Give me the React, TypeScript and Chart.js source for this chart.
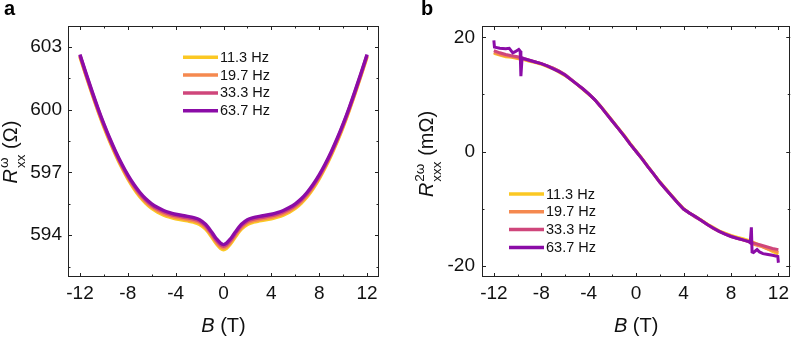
import React, { useEffect, useRef } from "react";
import { Chart, registerables } from "chart.js";
Chart.register(...registerables);

const FONT = '"Liberation Sans", Arial, Helvetica, sans-serif';

const FREQS = ["11.3 Hz", "19.7 Hz", "33.3 Hz", "63.7 Hz"];
const COLORS = ["#FBC823", "#F5894F", "#CF467B", "#8B0CA7"];

const xTicks = [-12, -8, -4, 0, 4, 8, 12];
const xMinor = [-10, -6, -2, 2, 6, 10];
const yTicksA = [594, 597, 600, 603];
const yMinorA = [592.5, 595.5, 598.5, 601.5];
const yTicksB = [-20, 0, 20];
const yMinorB = [-10, 10];

// Panel a: R_xx^ω (Ω) vs B (T)
const bA = [-12, -11.5, -11, -10.5, -10, -9.5, -9, -8.5, -8, -7.5, -7, -6.5, -6, -5.5, -5, -4.5, -4, -3, -2.5, -2, -1.5, -1, -0.75, -0.5, -0.25, 0,
  0.25, 0.5, 0.75, 1, 1.5, 2, 2.5, 3, 4, 4.5, 5, 5.5, 6, 6.5, 7, 7.5, 8, 8.5, 9, 9.5, 10, 10.5, 11, 11.5, 12];
const rA11 = [602.52, 601.63, 600.77, 599.94, 599.17, 598.46, 597.81, 597.22, 596.69, 596.23, 595.84, 595.53, 595.28, 595.1, 594.96, 594.86, 594.78, 594.68, 594.62, 594.51, 594.29, 593.92, 593.71, 593.52, 593.37, 593.3,
  593.37, 593.52, 593.71, 593.92, 594.29, 594.51, 594.62, 594.68, 594.78, 594.86, 594.96, 595.1, 595.28, 595.53, 595.84, 596.23, 596.69, 597.22, 597.81, 598.46, 599.17, 599.94, 600.77, 601.63, 602.52];
const rA19 = [602.56, 601.67, 600.81, 599.99, 599.22, 598.51, 597.87, 597.28, 596.75, 596.3, 595.91, 595.6, 595.35, 595.17, 595.03, 594.93, 594.85, 594.75, 594.69, 594.59, 594.36, 594.0, 593.79, 593.6, 593.45, 593.38,
  593.45, 593.6, 593.79, 594.0, 594.36, 594.59, 594.69, 594.75, 594.85, 594.93, 595.03, 595.17, 595.35, 595.6, 595.91, 596.3, 596.75, 597.28, 597.87, 598.51, 599.22, 599.99, 600.81, 601.67, 602.56];
const rA33 = [602.6, 601.71, 600.86, 600.04, 599.27, 598.57, 597.93, 597.34, 596.82, 596.37, 595.98, 595.67, 595.43, 595.25, 595.11, 595.01, 594.93, 594.83, 594.77, 594.67, 594.45, 594.08, 593.87, 593.69, 593.54, 593.47,
  593.54, 593.69, 593.87, 594.08, 594.45, 594.67, 594.77, 594.83, 594.93, 595.01, 595.11, 595.25, 595.43, 595.67, 595.98, 596.37, 596.82, 597.34, 597.93, 598.57, 599.27, 600.04, 600.86, 601.71, 602.6];
const rA63 = [602.64, 601.75, 600.9, 600.08, 599.32, 598.62, 597.98, 597.4, 596.88, 596.43, 596.05, 595.74, 595.5, 595.32, 595.18, 595.08, 595.0, 594.9, 594.84, 594.74, 594.52, 594.16, 593.95, 593.77, 593.62, 593.55,
  593.62, 593.77, 593.95, 594.16, 594.52, 594.74, 594.84, 594.9, 595.0, 595.08, 595.18, 595.32, 595.5, 595.74, 596.05, 596.43, 596.88, 597.4, 597.98, 598.62, 599.32, 600.08, 600.9, 601.75, 602.64];

// Panel b: R_xxx^2ω (mΩ) vs B (T)
const bB = [-12, -11.5, -11, -10.5, -10, -9.5, -9, -8.5, -8, -7.5, -7, -6.5, -6, -5.5, -5, -4.5, -4, -3.5, -3, -2.5, -2, -1.5, -1, -0.5, 0,
  0.5, 1, 1.5, 2, 2.5, 3, 3.5, 4, 4.5, 5, 5.5, 6, 6.5, 7, 7.5, 8, 8.5, 9, 9.5, 10, 10.5, 11, 11.5, 12];
const rB11 = [17.2, 16.9, 16.6, 16.5, 16.3, 16.1, 15.8, 15.6, 15.3, 14.9, 14.5, 13.9, 13.3, 12.6, 11.8, 10.9, 10.0, 9.1, 8.0, 6.7, 5.4, 4.1, 2.8, 1.4, 0.1,
  -1.2, -2.6, -4.0, -5.3, -6.5, -7.7, -8.9, -10.0, -10.8, -11.4, -12.0, -12.7, -13.3, -13.9, -14.3, -14.7, -15.0, -15.3, -15.6, -16.0, -16.5, -17.0, -17.5, -18.0];
const rB19 = [17.4, 17.0, 16.8, 16.6, 16.4, 16.2, 15.9, 15.7, 15.4, 15.0, 14.6, 14.1, 13.4, 12.6, 11.8, 11.0, 10.1, 9.1, 7.9, 6.6, 5.3, 4.0, 2.7, 1.3, 0.0,
  -1.3, -2.7, -4.0, -5.4, -6.6, -7.8, -9.0, -10.1, -10.8, -11.4, -12.1, -12.8, -13.4, -14.0, -14.4, -14.8, -15.2, -15.5, -15.8, -16.3, -16.6, -17.0, -17.3, -17.7];
const rB33 = [17.7, 17.3, 17.0, 16.8, 16.6, 16.3, 16.0, 15.7, 15.4, 15.0, 14.6, 14.1, 13.5, 12.7, 11.8, 11.0, 10.1, 9.1, 7.9, 6.6, 5.3, 4.0, 2.7, 1.3, 0.0,
  -1.3, -2.7, -4.0, -5.4, -6.6, -7.8, -9.0, -10.1, -10.8, -11.5, -12.1, -12.8, -13.5, -14.0, -14.5, -14.9, -15.2, -15.5, -15.8, -16.1, -16.4, -16.7, -17.0, -17.2];
const bB63 = [-12, -11.95, -11.5, -11, -10.7, -10.4, -10.2, -9.9, -9.78, -9.72, -9.62, -9.5,
  -9, -8.5, -8, -7.5, -7, -6.5, -6, -5.5, -5, -4.5, -4, -3.5, -3, -2.5, -2, -1.5, -1, -0.5, 0,
  0.5, 1, 1.5, 2, 2.5, 3, 3.5, 4, 4.5, 5, 5.5, 6, 6.5, 7, 7.5, 8, 8.5, 9,
  9.5, 9.62, 9.72, 9.78, 9.9, 10.2, 10.4, 10.7, 11, 11.5, 11.95, 12];
const rB63 = [19.5, 18.3, 18.1, 18.0, 18.1, 17.3, 17.5, 17.9, 17.6, 13.2, 16.4, 16.3,
  16.0, 15.7, 15.4, 15.0, 14.5, 14.0, 13.4, 12.6, 11.8, 11.0, 10.1, 9.1, 7.9, 6.6, 5.3, 4.0, 2.7, 1.3, 0.0,
  -1.3, -2.7, -4.0, -5.4, -6.6, -7.8, -9.0, -10.1, -10.8, -11.4, -12.1, -12.8, -13.4, -14.0, -14.5, -14.9, -15.2, -15.5,
  -15.8, -16.0, -13.3, -17.6, -17.7, -17.2, -17.6, -17.9, -18.0, -18.2, -18.4, -19.5];

const toXY = (xs: number[], ys: number[]) => xs.map((x, i) => ({ x, y: ys[i] }));

type PanelCfg = {
  letter: string;
  letterX: number;
  yMajor: number[];
  yMinor: number[];
  titleX: number;
  titleYc: number;
  sup: string;
  sub: string;
  unit: string;
  legendX: number;
  legendY: number;
};

function drawYTitle(ctx: CanvasRenderingContext2D, cfg: PanelCfg) {
  ctx.save();
  ctx.translate(cfg.titleX, cfg.titleYc);
  ctx.rotate(-Math.PI / 2);
  const big = `20px ${FONT}`;
  const bigI = `italic 20px ${FONT}`;
  const small = `13.5px ${FONT}`;
  ctx.font = bigI;
  const wR = ctx.measureText("R").width;
  ctx.font = small;
  const wS = Math.max(ctx.measureText(cfg.sup).width, ctx.measureText(cfg.sub).width);
  ctx.font = big;
  const wU = ctx.measureText(cfg.unit).width;
  const total = wR + 1 + wS + wU;
  let cx = -total / 2;
  ctx.fillStyle = "#111";
  ctx.textAlign = "left";
  ctx.textBaseline = "alphabetic";
  ctx.font = bigI;
  ctx.fillText("R", cx, 0);
  cx += wR + 1;
  ctx.font = small;
  ctx.fillText(cfg.sup, cx, -9.5);
  ctx.fillText(cfg.sub, cx, 7.5);
  cx += wS;
  ctx.font = big;
  ctx.fillText(cfg.unit, cx, 0);
  ctx.restore();
}

function makePlugin(cfg: PanelCfg) {
  return {
    id: "decor",
    afterDraw(chart: any) {
      const ctx: CanvasRenderingContext2D = chart.ctx;
      const a = chart.chartArea;
      const xs = chart.scales.x;
      const ys = chart.scales.y;
      ctx.save();
      ctx.strokeStyle = "#222";
      ctx.lineWidth = 1;
      ctx.strokeRect(Math.round(a.left) + 0.5, Math.round(a.top) + 0.5, Math.round(a.right - a.left) - 1, Math.round(a.bottom - a.top) - 1);
      const tick = (vals: number[], len: number) => {
        ctx.beginPath();
        vals.forEach((v) => {
          const px = Math.round(xs.getPixelForValue(v)) + 0.5;
          ctx.moveTo(px, a.bottom);
          ctx.lineTo(px, a.bottom - len);
          ctx.moveTo(px, a.top);
          ctx.lineTo(px, a.top + len);
        });
        ctx.stroke();
      };
      const tickY = (vals: number[], len: number) => {
        ctx.beginPath();
        vals.forEach((v) => {
          const py = Math.round(ys.getPixelForValue(v)) + 0.5;
          if (py < a.top || py > a.bottom) return;
          ctx.moveTo(a.left, py);
          ctx.lineTo(a.left + len, py);
          ctx.moveTo(a.right, py);
          ctx.lineTo(a.right - len, py);
        });
        ctx.stroke();
      };
      tick(xTicks, 4);
      tick(xMinor, 2.5);
      tickY(cfg.yMajor, 4);
      tickY(cfg.yMinor, 2.5);

      // legend
      FREQS.forEach((f, i) => {
        const y = cfg.legendY + i * 17.8;
        ctx.strokeStyle = COLORS[i];
        ctx.lineWidth = 3.5;
        ctx.beginPath();
        ctx.moveTo(cfg.legendX, y);
        ctx.lineTo(cfg.legendX + 35, y);
        ctx.stroke();
        ctx.fillStyle = "#111";
        ctx.font = `14.5px ${FONT}`;
        ctx.textAlign = "left";
        ctx.textBaseline = "middle";
        ctx.fillText(f, cfg.legendX + 37, y + 0.5);
      });

      // x title
      const cxm = (a.left + a.right) / 2;
      ctx.font = `italic 20px ${FONT}`;
      const wB = ctx.measureText("B").width;
      ctx.font = `20px ${FONT}`;
      const wT = ctx.measureText(" (T)").width;
      const x0 = cxm - (wB + wT) / 2;
      ctx.textBaseline = "alphabetic";
      ctx.fillStyle = "#111";
      ctx.font = `italic 20px ${FONT}`;
      ctx.fillText("B", x0, 332);
      ctx.font = `20px ${FONT}`;
      ctx.fillText(" (T)", x0 + wB, 332);

      // panel letter
      ctx.font = `bold 20px ${FONT}`;
      ctx.fillStyle = "#000";
      ctx.fillText(cfg.letter, cfg.letterX, 15);

      drawYTitle(ctx, cfg);
      ctx.restore();
    },
  };
}

function makeChart(
  canvas: HTMLCanvasElement,
  datasets: any[],
  yMin: number,
  yMax: number,
  yWidth: number,
  yPad: number,
  padRight: number,
  cfg: PanelCfg
) {
  return new Chart(canvas, {
    type: "line",
    data: { datasets },
    options: {
      animation: false,
      responsive: false,
      maintainAspectRatio: false,
      devicePixelRatio: 1,
      layout: { padding: { left: 0, top: 26, right: padRight, bottom: 0 } },
      plugins: { legend: { display: false }, tooltip: { enabled: false } },
      elements: { point: { radius: 0 }, line: { tension: 0 } },
      scales: {
        x: {
          type: "linear",
          min: -13,
          max: 13,
          afterFit: (s: any) => {
            s.height = 61;
          },
          afterBuildTicks: (s: any) => {
            s.ticks = xTicks.map((v) => ({ value: v }));
          },
          grid: { display: false, drawTicks: false },
          border: { display: false },
          ticks: {
            font: { family: FONT, size: 19 },
            color: "#111",
            padding: 5,
            maxRotation: 0,
            autoSkip: false,
            callback: (v: any) => String(v),
          },
        },
        y: {
          type: "linear",
          min: yMin,
          max: yMax,
          afterFit: (s: any) => {
            s.width = yWidth;
          },
          afterBuildTicks: (s: any) => {
            s.ticks = cfg.yMajor.map((v) => ({ value: v }));
          },
          grid: { display: false, drawTicks: false },
          border: { display: false },
          ticks: {
            font: { family: FONT, size: 19 },
            color: "#111",
            padding: yPad,
            autoSkip: false,
            callback: (v: any) => String(v),
          },
        },
      },
    } as any,
    plugins: [makePlugin(cfg)],
  });
}

export default function App() {
  const refA = useRef<HTMLCanvasElement>(null);
  const refB = useRef<HTMLCanvasElement>(null);

  useEffect(() => {
    const lineA = (d: number[], i: number, order: number) => ({
      label: FREQS[i],
      data: toXY(bA, d),
      borderColor: COLORS[i],
      borderWidth: 3.4,
      cubicInterpolationMode: "monotone",
      fill: false,
      order,
    });
    const lineB = (xs: number[], d: number[], i: number, order: number) => ({
      label: FREQS[i],
      data: toXY(xs, d),
      borderColor: COLORS[i],
      borderWidth: 3,
      fill: false,
      order,
    });
    const cfgA: PanelCfg = {
      letter: "a",
      letterX: 4,
      yMajor: yTicksA,
      yMinor: yMinorA,
      titleX: 17,
      titleYc: 152,
      sup: "ω",
      sub: "xx",
      unit: " (Ω)",
      legendX: 183,
      legendY: 57.3,
    };
    const cfgB: PanelCfg = {
      letter: "b",
      letterX: 24,
      yMajor: yTicksB,
      yMinor: yMinorB,
      titleX: 36,
      titleYc: 154,
      sup: "2ω",
      sub: "xxx",
      unit: " (mΩ)",
      legendX: 112,
      legendY: 194,
    };
    const chartA = makeChart(
      refA.current!,
      [lineA(rA11, 0, 3), lineA(rA19, 1, 2), lineA(rA33, 2, 1), lineA(rA63, 3, 0)],
      592,
      604,
      68,
      6,
      18,
      cfgA
    );
    const chartB = makeChart(
      refB.current!,
      [lineB(bB, rB11, 0, 3), lineB(bB, rB19, 1, 2), lineB(bB, rB33, 2, 1), lineB(bB63, rB63, 3, 0)],
      -22,
      22,
      85,
      7,
      1,
      cfgB
    );
    return () => {
      chartA.destroy();
      chartB.destroy();
    };
  }, []);

  return (
    <div style={{ position: "absolute", left: 0, top: 0, width: 794, height: 338, background: "#fff" }}>
      <canvas ref={refA} width={397} height={338} style={{ position: "absolute", left: 0, top: 0, width: 397, height: 338 }} />
      <canvas ref={refB} width={397} height={338} style={{ position: "absolute", left: 397, top: 0, width: 397, height: 338 }} />
    </div>
  );
}
